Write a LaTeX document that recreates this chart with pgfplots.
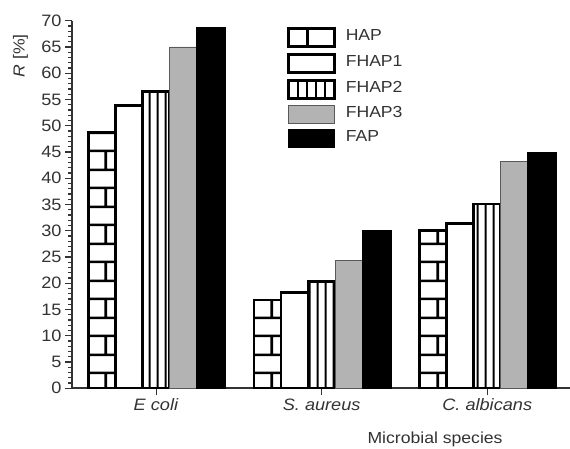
\documentclass[border=0pt]{standalone}
\usepackage{pgfplots}
\pgfplotsset{compat=1.18}
\usepackage{fontspec}
\setmainfont[FakeStretch=1.1]{Liberation Sans}
\usetikzlibrary{patterns}
\definecolor{axcol}{HTML}{333333}
\definecolor{txtcol}{HTML}{333333}
\definecolor{fhapgray}{HTML}{B3B3B3}
\pgfdeclarepatternformonly{brick}{\pgfpointorigin}{\pgfpoint{165.5pt}{36.6pt}}{\pgfpoint{165.5pt}{36.6pt}}{%
  \pgfsetlinewidth{2.6pt}%
  \pgfpathmoveto{\pgfpoint{-1pt}{2.1pt}}\pgfpathlineto{\pgfpoint{166.5pt}{2.1pt}}%
  \pgfpathmoveto{\pgfpoint{-1pt}{20.4pt}}\pgfpathlineto{\pgfpoint{166.5pt}{20.4pt}}%
  \pgfpathmoveto{\pgfpoint{106pt}{20.4pt}}\pgfpathlineto{\pgfpoint{106pt}{37.5pt}}%
  \pgfpathmoveto{\pgfpoint{106pt}{-1pt}}\pgfpathlineto{\pgfpoint{106pt}{2.1pt}}%
  \pgfusepath{stroke}}
\pgfdeclarepatternformonly{vstripes}{\pgfpointorigin}{\pgfpoint{8.275pt}{10pt}}{\pgfpoint{8.275pt}{10pt}}{%
  \pgfsetlinewidth{2.2pt}%
  \pgfpathmoveto{\pgfpoint{1.75pt}{-1pt}}\pgfpathlineto{\pgfpoint{1.75pt}{11pt}}%
  \pgfusepath{stroke}}
\begin{document}
\begin{tikzpicture}
\useasboundingbox (0,0) rectangle (570pt,448pt);
\begin{axis}[
  at={(72pt,59.7pt)}, anchor=south west,
  scale only axis, width=498pt, height=367.6pt,
  xmin=-0.508, xmax=2.5, ymin=0, ymax=70,
  axis x line*=bottom, axis y line*=left,
  axis line style={line width=1.8pt, color=axcol},
  every tick/.style={line width=1.2pt, color=axcol},
  tick align=outside,
  major tick length=7pt, minor tick length=4pt,
  xtick={0,1,2},
  xticklabels={\textit{E coli},\textit{S. aureus},\textit{C. albicans}},
  ytick={0,5,...,70},
  minor y tick num=4,
  /pgf/number format/assume math mode=true,
  tick label style={font=\fontsize{16.5}{19}\selectfont, color=txtcol},
  label style={font=\fontsize{16}{19}\selectfont, color=txtcol},
  ylabel={\textit{R} [\%]},
  ylabel style={at={(axis description cs:-0.1034,0.905)}, anchor=center},
  xlabel={Microbial species},
  xlabel style={at={(axis description cs:0.729,-0.1515)}, anchor=base},
  ybar=0pt, bar width=27pt,
  legend style={at={(axis description cs:0.4317,0.983)}, anchor=north west,
    draw=none, fill=none, inner sep=0pt, row sep=5.3pt, column sep=10pt,
    font=\fontsize{16}{19}\selectfont, text=txtcol,
    nodes={inner sep=0pt, text height=12pt, text depth=6pt}},
  legend cell align=left,
]
\addplot[draw=black, line width=2.6pt, pattern=brick, pattern color=black,
  legend image code/.code={
    \draw[line width=2.6pt, black, fill=white] (0pt,-9pt) rectangle (46pt,9pt);
    \draw[line width=2.6pt, black] (19pt,-9pt) -- (19pt,9pt);}]
  coordinates {(0,48.8) (1,16.8) (2,30.0)};
\addlegendentry{HAP}
\addplot[draw=black, line width=2.6pt, fill=white,
  legend image code/.code={
    \draw[line width=2.6pt, black, fill=white] (0pt,-9pt) rectangle (46pt,9pt);}]
  coordinates {(0,53.8) (1,18.3) (2,31.4)};
\addlegendentry{FHAP1}
\addplot[draw=black, line width=2.6pt, pattern=vstripes, pattern color=black,
  legend image code/.code={
    \draw[line width=2.6pt, black, fill=white] (0pt,-9pt) rectangle (46pt,9pt);
    \foreach \xx in {9.4,18.7,27.7,36.4} {\draw[line width=2.2pt, black] (\xx pt,-9pt) -- (\xx pt,9pt);}}]
  coordinates {(0,56.5) (1,20.3) (2,35.1)};
\addlegendentry{FHAP2}
\addplot[draw=gray!70!black, line width=0.8pt, fill=fhapgray,
  legend image code/.code={
    \draw[line width=0.8pt, gray!70!black, fill=fhapgray] (0pt,-9pt) rectangle (46pt,9pt);}]
  coordinates {(0,65.0) (1,24.4) (2,43.2)};
\addlegendentry{FHAP3}
\addplot[draw=black, line width=0.8pt, fill=black, bar width=29pt, bar shift=55pt,
  legend image code/.code={
    \draw[line width=0.8pt, black, fill=black] (0pt,-9pt) rectangle (46pt,9pt);}]
  coordinates {(0,68.7) (1,30.0) (2,44.9)};
\addlegendentry{FAP}
\end{axis}
\end{tikzpicture}
\end{document}
